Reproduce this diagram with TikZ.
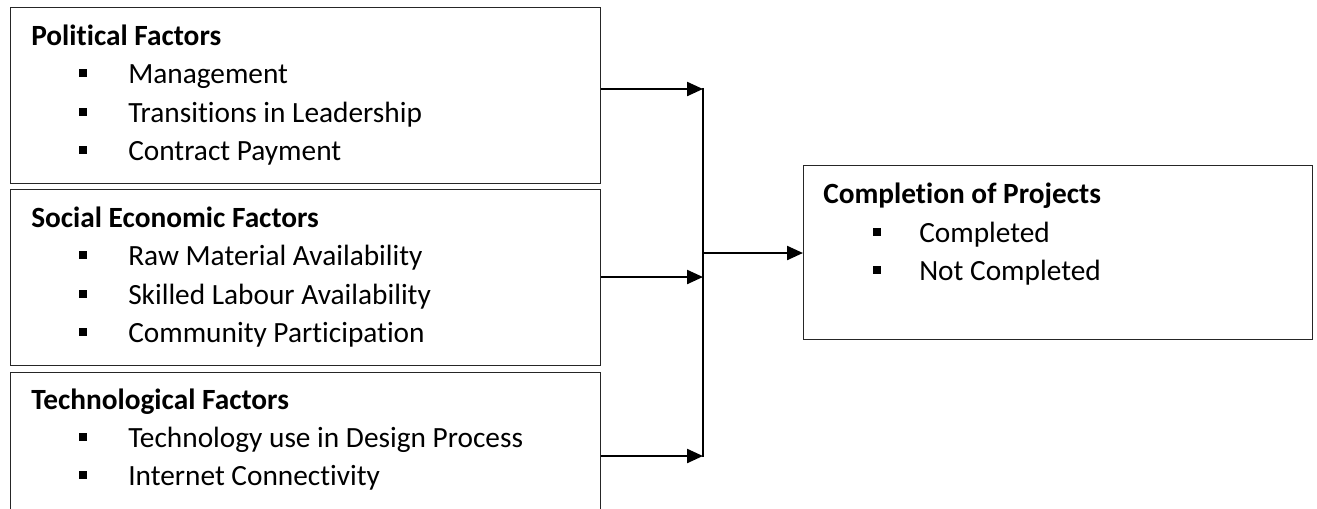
\documentclass[tikz,border=0pt]{standalone}
\usepackage{fontspec}
\setmainfont{Carlito}[Ligatures=NoCommon]
\usetikzlibrary{arrows.meta}
\newcommand{\sqbul}{\rule[4.5pt]{5.8pt}{6pt}}
\tikzset{
  box/.style={draw=black!85, line width=1.1pt, rectangle, inner sep=0pt, anchor=north west},
  head/.style={anchor=base west, inner sep=0pt, font=\fontsize{22pt}{26pt}\selectfont\bfseries},
  item/.style={anchor=base west, inner sep=0pt, font=\fontsize{22pt}{26pt}\selectfont},
  bul/.style={anchor=base west, inner sep=0pt},
  conn/.style={line width=1.7pt, draw=black},
  arr/.style={conn, -{Triangle[length=12pt, width=10.5pt]}}
}
\begin{document}
\begin{tikzpicture}[x=0.75pt, y=-0.75pt]
\useasboundingbox (0,0) rectangle (1317,508);
\clip (0,0) rectangle (1317,508);
% boxes
\node[box, minimum width=590*0.75pt, minimum height=176*0.75pt] (b1) at (10,7) {};
\node[box, minimum width=590*0.75pt, minimum height=176*0.75pt] (b2) at (10,189) {};
\node[box, minimum width=590*0.75pt, minimum height=150*0.75pt] (b3) at (10,372) {};
\node[box, minimum width=509*0.75pt, minimum height=174*0.75pt] (b4) at (803,165) {};
% box 1 text
\node[head] (h1) at (31,45) {Political Factors};
\node[bul] (p1b) at (79,83) {\sqbul};
\node[item] (p1) at (128,83) {Management};
\node[bul] (p2b) at (79,122) {\sqbul};
\node[item] (p2) at (128,122) {Transitions in Leadership};
\node[bul] (p3b) at (79,160) {\sqbul};
\node[item] (p3) at (128,160) {Contract Payment};
% box 2 text
\node[head] (h2) at (31,227) {Social Economic Factors};
\node[bul] (s1b) at (79,265) {\sqbul};
\node[item] (s1) at (128,265) {Raw Material Availability};
\node[bul] (s2b) at (79,304) {\sqbul};
\node[item] (s2) at (128,304) {Skilled Labour Availability};
\node[bul] (s3b) at (79,342) {\sqbul};
\node[item] (s3) at (128,342) {Community Participation};
% box 3 text
\node[head] (h3) at (31,409) {Technological Factors};
\node[bul] (t1b) at (79,447) {\sqbul};
\node[item] (t1) at (128,447) {Technology use in Design Process};
\node[bul] (t2b) at (79,485) {\sqbul};
\node[item] (t2) at (128,485) {Internet Connectivity};
% box 4 text
\node[head] (h4) at (823,203) {Completion of Projects};
\node[bul] (c1b) at (873,242) {\sqbul};
\node[item] (c1) at (919,242) {Completed};
\node[bul] (c2b) at (873,280) {\sqbul};
\node[item] (c2) at (919,280) {Not Completed};
% connectors
\coordinate (j1) at (703,89);
\coordinate (j2) at (703,277);
\coordinate (j3) at (703,456);
\coordinate (jm) at (703,253);
\draw[arr] (b1.east |- j1) -- (j1);
\draw[arr] (b2.east |- j2) -- (j2);
\draw[arr] (b3.east |- j3) -- (j3);
\draw[conn] ([yshift=0.85pt]j1) -- ([yshift=-0.85pt]j3);
\draw[arr] (jm) -- (b4.west |- jm);
\end{tikzpicture}
\end{document}
